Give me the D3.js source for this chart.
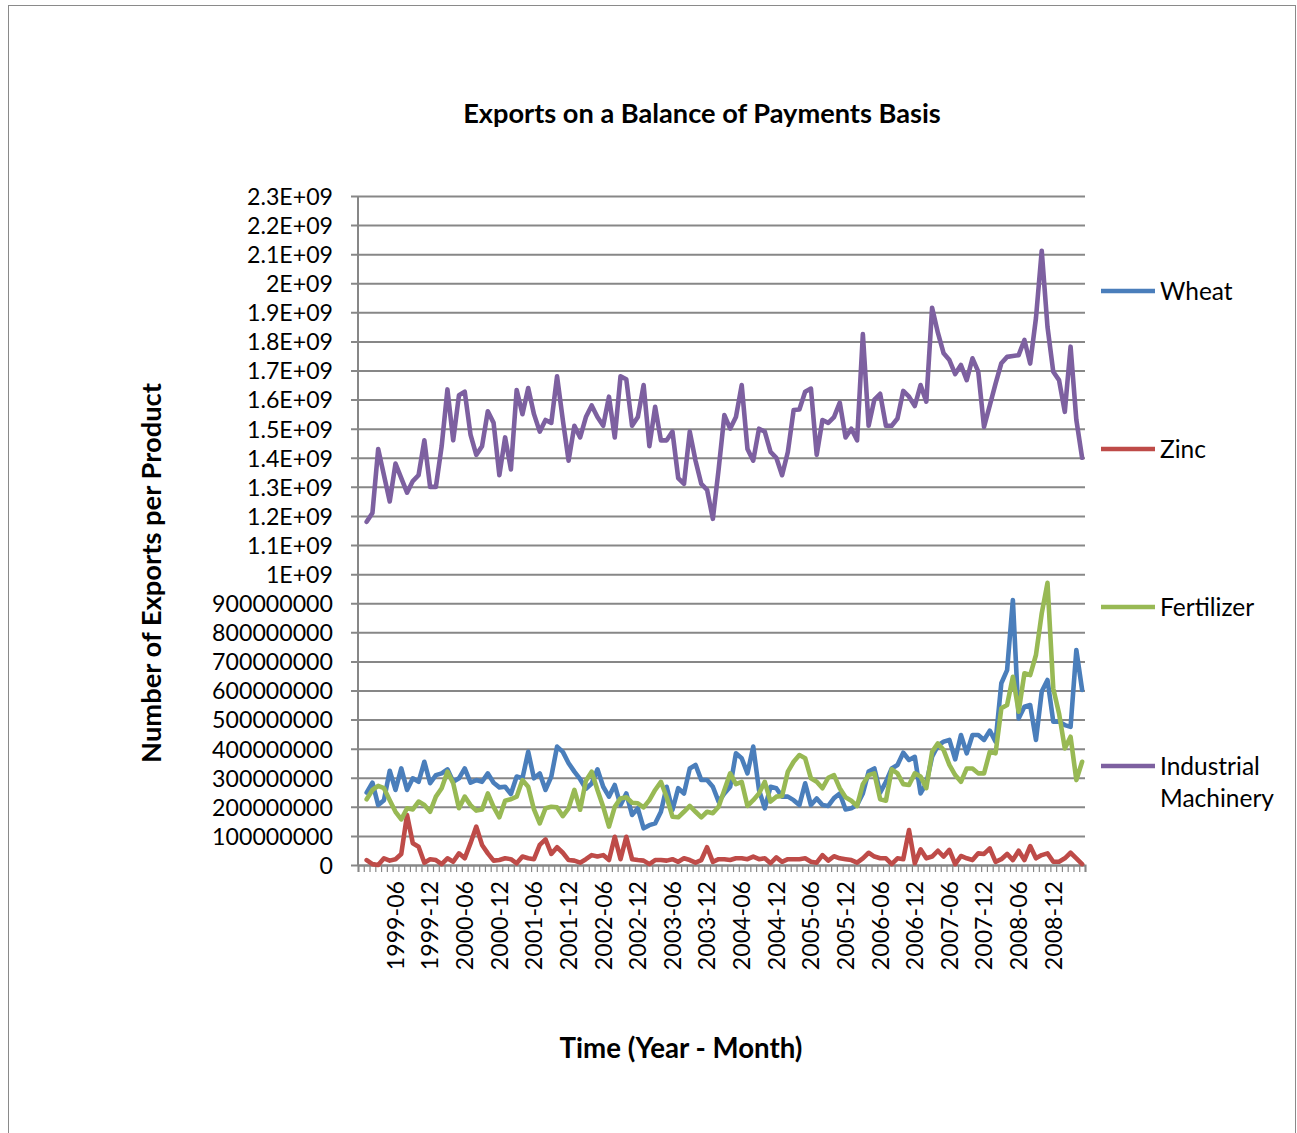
<!DOCTYPE html>
<html><head><meta charset="utf-8">
<script src="https://cdn.jsdelivr.net/npm/d3@7/dist/d3.min.js"></script>
<style>body{margin:0;background:#fff} svg{display:block}</style>
</head><body>
<svg id="chart" width="1297" height="1133"></svg>
<script>
// ---------- data (values in millions of exports) ----------
const seriesNames = ["Wheat", "Zinc", "Fertilizer", "Industrial Machinery"];
const seriesColors = ["#4A7EBB", "#BE4B48", "#98B954", "#7D60A0"];
const firstDataMonth = "1999-01"; // monthly, 1999-01 .. 2009-05

const wheat = [249,283,206,223,324,258,332,258,298,286,355,281,309,315,329,286,298,332,283,292,
  286,315,283,267,269,244,304,298,389,298,315,258,304,407,389,350,321,295,262,280,
  329,269,235,275,206,246,172,195,126,137,143,183,269,189,264,246,332,344,292,292,
  269,218,246,269,384,367,315,407,258,195,269,264,235,235,223,206,281,206,229,206,
  203,230,246,191,195,206,246,321,332,249,286,332,344,386,361,372,246,281,372,410,
  424,430,363,447,384,447,447,430,462,424,625,670,911,504,544,550,430,596,636,493,
  493,481,475,739,602];
const zinc = [17,3,0,23,15,20,38,172,75,63,8,20,17,3,23,11,40,23,75,132,
  69,40,15,17,23,20,6,29,23,20,69,88,38,61,42,17,15,8,20,34,
  29,34,17,97,20,97,20,17,15,3,17,17,15,20,11,23,17,8,17,61,
  11,20,20,17,23,23,20,29,20,23,6,26,11,20,20,20,23,11,8,34,
  15,30,23,20,17,8,23,42,29,23,23,3,23,20,120,6,54,23,29,49,
  29,52,3,31,23,17,40,38,57,11,20,38,17,49,17,65,23,34,40,11,
  11,23,42,23,3];
const fertilizer = [226,258,272,264,223,183,157,195,191,218,206,183,235,264,321,281,195,235,206,187,
  191,246,200,164,221,226,235,292,269,191,143,195,200,198,168,195,258,190,290,321,
  258,200,132,200,229,233,214,212,198,223,258,286,233,166,164,183,203,183,164,183,
  178,200,258,315,278,286,203,223,246,286,218,235,237,321,355,378,367,298,286,264,
  300,309,264,233,221,203,278,309,315,226,221,329,315,278,275,315,304,264,389,418,
  395,344,309,286,332,332,315,315,389,384,539,550,647,527,659,653,722,865,970,607,
  521,401,441,292,355];
const machinery = [1180,1210,1430,1340,1250,1380,1330,1280,1320,1340,1460,1300,1300,1440,1635,1460,1615,1627,1480,1410,
  1440,1560,1520,1340,1470,1360,1633,1550,1640,1550,1490,1530,1520,1680,1530,1390,1510,1470,1540,1580,
  1540,1510,1610,1470,1680,1670,1510,1540,1650,1440,1575,1460,1460,1490,1330,1310,1490,1390,1310,1290,
  1190,1360,1547,1500,1540,1650,1430,1390,1500,1490,1420,1400,1340,1420,1564,1566,1627,1638,1410,1530,
  1520,1540,1590,1470,1500,1460,1825,1510,1600,1620,1510,1510,1535,1630,1610,1578,1650,1593,1916,1830,
  1759,1736,1688,1719,1667,1742,1696,1506,1580,1655,1725,1747,1750,1753,1805,1724,1880,2112,1850,1696,
  1667,1558,1782,1530,1400];
const seriesValues = [wheat, zinc, fertilizer, machinery];

const yTickLabels = ["0","100000000","200000000","300000000","400000000","500000000","600000000",
  "700000000","800000000","900000000","1E+09","1.1E+09","1.2E+09","1.3E+09","1.4E+09","1.5E+09",
  "1.6E+09","1.7E+09","1.8E+09","1.9E+09","2E+09","2.1E+09","2.2E+09","2.3E+09"];
const xTickLabels = ["1999-06","1999-12","2000-06","2000-12","2001-06","2001-12","2002-06","2002-12",
  "2003-06","2003-12","2004-06","2004-12","2005-06","2005-12","2006-06","2006-12","2007-06","2007-12",
  "2008-06","2008-12"];
const chartTitle = "Exports on a Balance of Payments Basis";
const xTitle = "Time (Year - Month)";
const yTitle = "Number of Exports per Product";

// ---------- layout ----------
const plot = {left: 358, right: 1085, top: 196, bottom: 865};
const font = "Lato, 'Open Sans', sans-serif";
const gridColor = "#878787";

const svg = d3.select("#chart");
svg.append("rect").attr("x", 8.5).attr("y", 5.5).attr("width", 1287).attr("height", 1140)
  .attr("fill", "#fff").attr("stroke", "#8a8a8a").attr("stroke-width", 1);

// categories: axis starts one month before the first data month
const fmt = d3.utcFormat("%Y-%m"), parse = d3.utcParse("%Y-%m");
const start = d3.utcMonth.offset(parse(firstDataMonth), -1);
const dataMonths = wheat.map((_, i) => fmt(d3.utcMonth.offset(parse(firstDataMonth), i)));
const categories = [fmt(start)].concat(dataMonths);

const x = d3.scaleBand().domain(categories).range([plot.left, plot.right]);
const xc = m => x(m) + x.bandwidth() / 2;
const y = d3.scaleLinear().domain([0, 2.3e9]).range([plot.bottom, plot.top]);

// helper: measure and scale font to a target width
function fitSize(text, weight, target) {
  const t = svg.append("text").attr("font-family", font).attr("font-weight", weight)
    .attr("font-size", 20).text(text);
  const w = t.node().getComputedTextLength(); t.remove();
  return 20 * target / w;
}
const tickFS = fitSize("900000000", "normal", 121);

// y gridlines + ticks + labels
const yTickVals = yTickLabels.map((_, i) => i * 1e8);
const yAxis = d3.axisLeft(y).tickValues(yTickVals)
  .tickSize(plot.right - 351).tickPadding(18)
  .tickFormat((d, i) => yTickLabels[i]);
const gy = svg.append("g").attr("transform", `translate(${plot.right},0)`).call(yAxis);
gy.select(".domain").remove();
gy.selectAll(".tick line").attr("stroke", gridColor).attr("stroke-width", 2);
gy.selectAll(".tick text").attr("font-family", font).attr("font-size", tickFS)
  .attr("fill", "#000").attr("dy", "0.36em");

// y axis line
svg.append("line").attr("x1", plot.left).attr("x2", plot.left)
  .attr("y1", plot.top).attr("y2", plot.bottom)
  .attr("stroke", gridColor).attr("stroke-width", 2);

// x axis: boundary ticks
const xb = d3.scaleLinear().domain([0, categories.length]).range([plot.left, plot.right]);
const gxt = svg.append("g").attr("transform", `translate(0,${plot.bottom})`)
  .call(d3.axisBottom(xb).tickValues(d3.range(categories.length + 1)).tickSize(7).tickFormat(""));
gxt.select(".domain").attr("stroke", gridColor).attr("stroke-width", 2);
gxt.selectAll(".tick line").attr("stroke", gridColor).attr("stroke-width", 1.2);

// x labels
const gxl = svg.append("g").attr("transform", `translate(0,${plot.bottom})`)
  .call(d3.axisBottom(x).tickValues(xTickLabels).tickSize(0).tickPadding(0));
gxl.select(".domain").remove();
gxl.selectAll(".tick text").attr("font-family", font).attr("font-size", tickFS).attr("fill", "#000")
  .attr("transform", "rotate(-90)").attr("text-anchor", "end")
  .attr("x", -16).attr("y", 0).attr("dy", "0.36em");

// lines
const line = d3.line().x((d, i) => xc(dataMonths[i])).y(d => y(d * 1e6));
seriesValues.forEach((vals, k) => {
  svg.append("path").datum(vals).attr("d", line).attr("fill", "none")
    .attr("stroke", seriesColors[k]).attr("stroke-width", 4.6)
    .attr("stroke-linejoin", "round").attr("stroke-linecap", "round");
});

// titles
svg.append("text").attr("x", 702).attr("y", 123).attr("text-anchor", "middle")
  .attr("font-family", font).attr("font-weight", "bold")
  .attr("font-size", fitSize(chartTitle, "bold", 478)).text(chartTitle);
svg.append("text").attr("x", 681).attr("y", 1058).attr("text-anchor", "middle")
  .attr("font-family", font).attr("font-weight", "bold")
  .attr("font-size", fitSize(xTitle, "bold", 243)).text(xTitle);
svg.append("text").attr("transform", "translate(161,573) rotate(-90)").attr("text-anchor", "middle")
  .attr("font-family", font).attr("font-weight", "bold")
  .attr("font-size", fitSize(yTitle, "bold", 380)).text(yTitle);

// legend
const legFS = fitSize("Machinery", "normal", 114);
const legY = [291, 449, 607, 766];
const legend = svg.append("g");
seriesNames.forEach((name, k) => {
  legend.append("line").attr("x1", 1101).attr("x2", 1155).attr("y1", legY[k]).attr("y2", legY[k])
    .attr("stroke", seriesColors[k]).attr("stroke-width", 4.6);
  const words = name === "Industrial Machinery" ? ["Industrial", "Machinery"] : [name];
  words.forEach((w, j) => {
    legend.append("text").attr("x", 1160).attr("y", legY[k] + j * 32).attr("dy", "0.36em")
      .attr("font-family", font).attr("font-size", legFS).text(w);
  });
});
</script>
</body></html>
